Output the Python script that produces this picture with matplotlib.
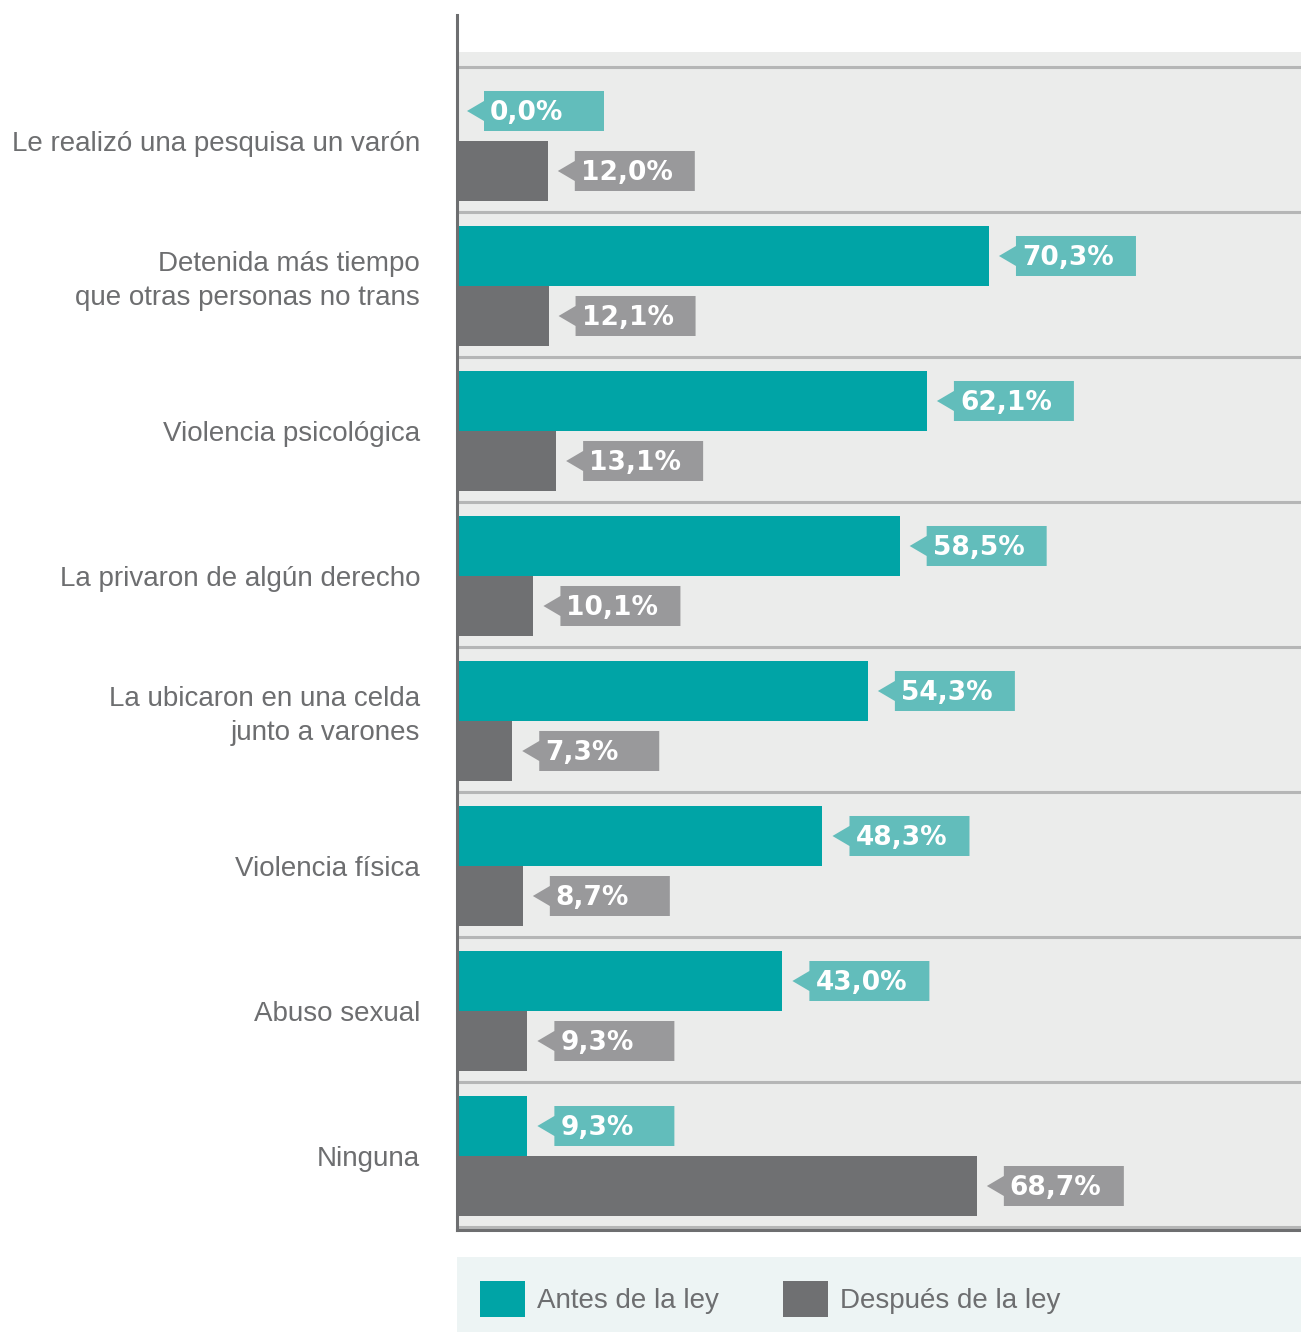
import matplotlib.pyplot as plt
from matplotlib.patches import Polygon, Patch
import numpy as np

categories = [
    'Le realizó una pesquisa un varón',
    'Detenida más tiempo\nque otras personas no trans',
    'Violencia psicológica',
    'La privaron de algún derecho',
    'La ubicaron en una celda\njunto a varones',
    'Violencia física',
    'Abuso sexual',
    'Ninguna',
]
antes = [0.0, 70.3, 62.1, 58.5, 54.3, 48.3, 43.0, 9.3]
despues = [12.0, 12.1, 13.1, 10.1, 7.3, 8.7, 9.3, 68.7]
series_names = ['Antes de la ley', 'Después de la ley']

TEAL = '#00a4a6'
GREY = '#6f7072'
TEAL_TAG = '#62bdbb'
GREY_TAG = '#99999b'
BG = '#ebeceb'
SEP = '#b5b6b6'
AXIS = '#6d6e70'
TXT = '#6d6e70'

W, H = 1301, 1332
fig = plt.figure(figsize=(W / 100, H / 100), dpi=100)
plt.rcParams['font.family'] = ['Liberation Sans', 'DejaVu Sans']

# plot area in pixels: x 457..1301, y 15..1230
ax = fig.add_axes([457 / W, 1 - 1230 / H, (1301 - 457) / W, (1230 - 15) / H])
px_per_pct = 7.567
xmax = 844 / px_per_pct
ax.set_xlim(0, xmax)
ax.set_ylim(7.5207, -0.8586)
px_x = xmax / 844
px_y = 1 / 145

ax.axhspan(-0.5 - 15 / 145, 7.6, color=BG, zorder=0, lw=0)
for i in range(len(categories) + 1):
    ax.axhline(i - 0.5, color=SEP, lw=2.2, zorder=1)

y = np.arange(len(categories))
h = 60 / 145
ax.barh(y - 28.5 / 145, antes, height=h, color=TEAL, zorder=2, label=series_names[0])
ax.barh(y + 31.5 / 145, despues, height=h, color=GREY, zorder=2, label=series_names[1])


def tag(v, yc, color):
    tip = v + 10 * px_x
    base = tip + 17 * px_x
    right = base + 120 * px_x
    hh = 20 * px_y
    ah = 10 * px_y
    pts = [(tip, yc), (base, yc - ah), (base, yc - hh), (right, yc - hh),
           (right, yc + hh), (base, yc + hh), (base, yc + ah)]
    ax.add_patch(Polygon(pts, closed=True, fc=color, ec='none', zorder=4, clip_on=False))
    txt = f'{v:.1f}'.replace('.', ',') + '%'
    ax.text(base + 6 * px_x, yc + 2 * px_y, txt, ha='left', va='center', color='white',
            fontsize=19, fontweight='bold', family='DejaVu Sans', zorder=5)


for i in range(len(categories)):
    tag(antes[i], i - 28.5 / 145, TEAL_TAG)
    tag(despues[i], i + 31.5 / 145, GREY_TAG)

# category labels, right aligned at x=420px
for i, c in enumerate(categories):
    two = '\n' in c
    ax.text(-37 * px_x, i + (-3 if two else 5) * px_y, c, ha='right', va='center',
            fontsize=20, color=TXT, linespacing=1.4, clip_on=False)

ax.set_yticks([])
ax.set_xticks([])
for s in ['top', 'right']:
    ax.spines[s].set_visible(False)
for s in ['left', 'bottom']:
    ax.spines[s].set_color(AXIS)
    ax.spines[s].set_linewidth(2.2)
ax.set_facecolor('white')

# legend strip
fig.patches.append(plt.Rectangle((457 / W, 0), (1301 - 457) / W, (1332 - 1257) / H,
                                 transform=fig.transFigure, fc='#edf4f4', ec='none', zorder=0))
handles = [Patch(fc=TEAL, ec='none'), Patch(fc=GREY, ec='none')]
fig.legend(handles, series_names, loc='center left', bbox_to_anchor=(480 / W, 1 - 1299 / H),
           frameon=False, ncol=2, fontsize=20, labelcolor=TXT, borderpad=0, borderaxespad=0,
           handlelength=1.62, handleheight=1.62, handletextpad=0.43, columnspacing=2.3)

fig.savefig('out.png', dpi=100, facecolor='white')
